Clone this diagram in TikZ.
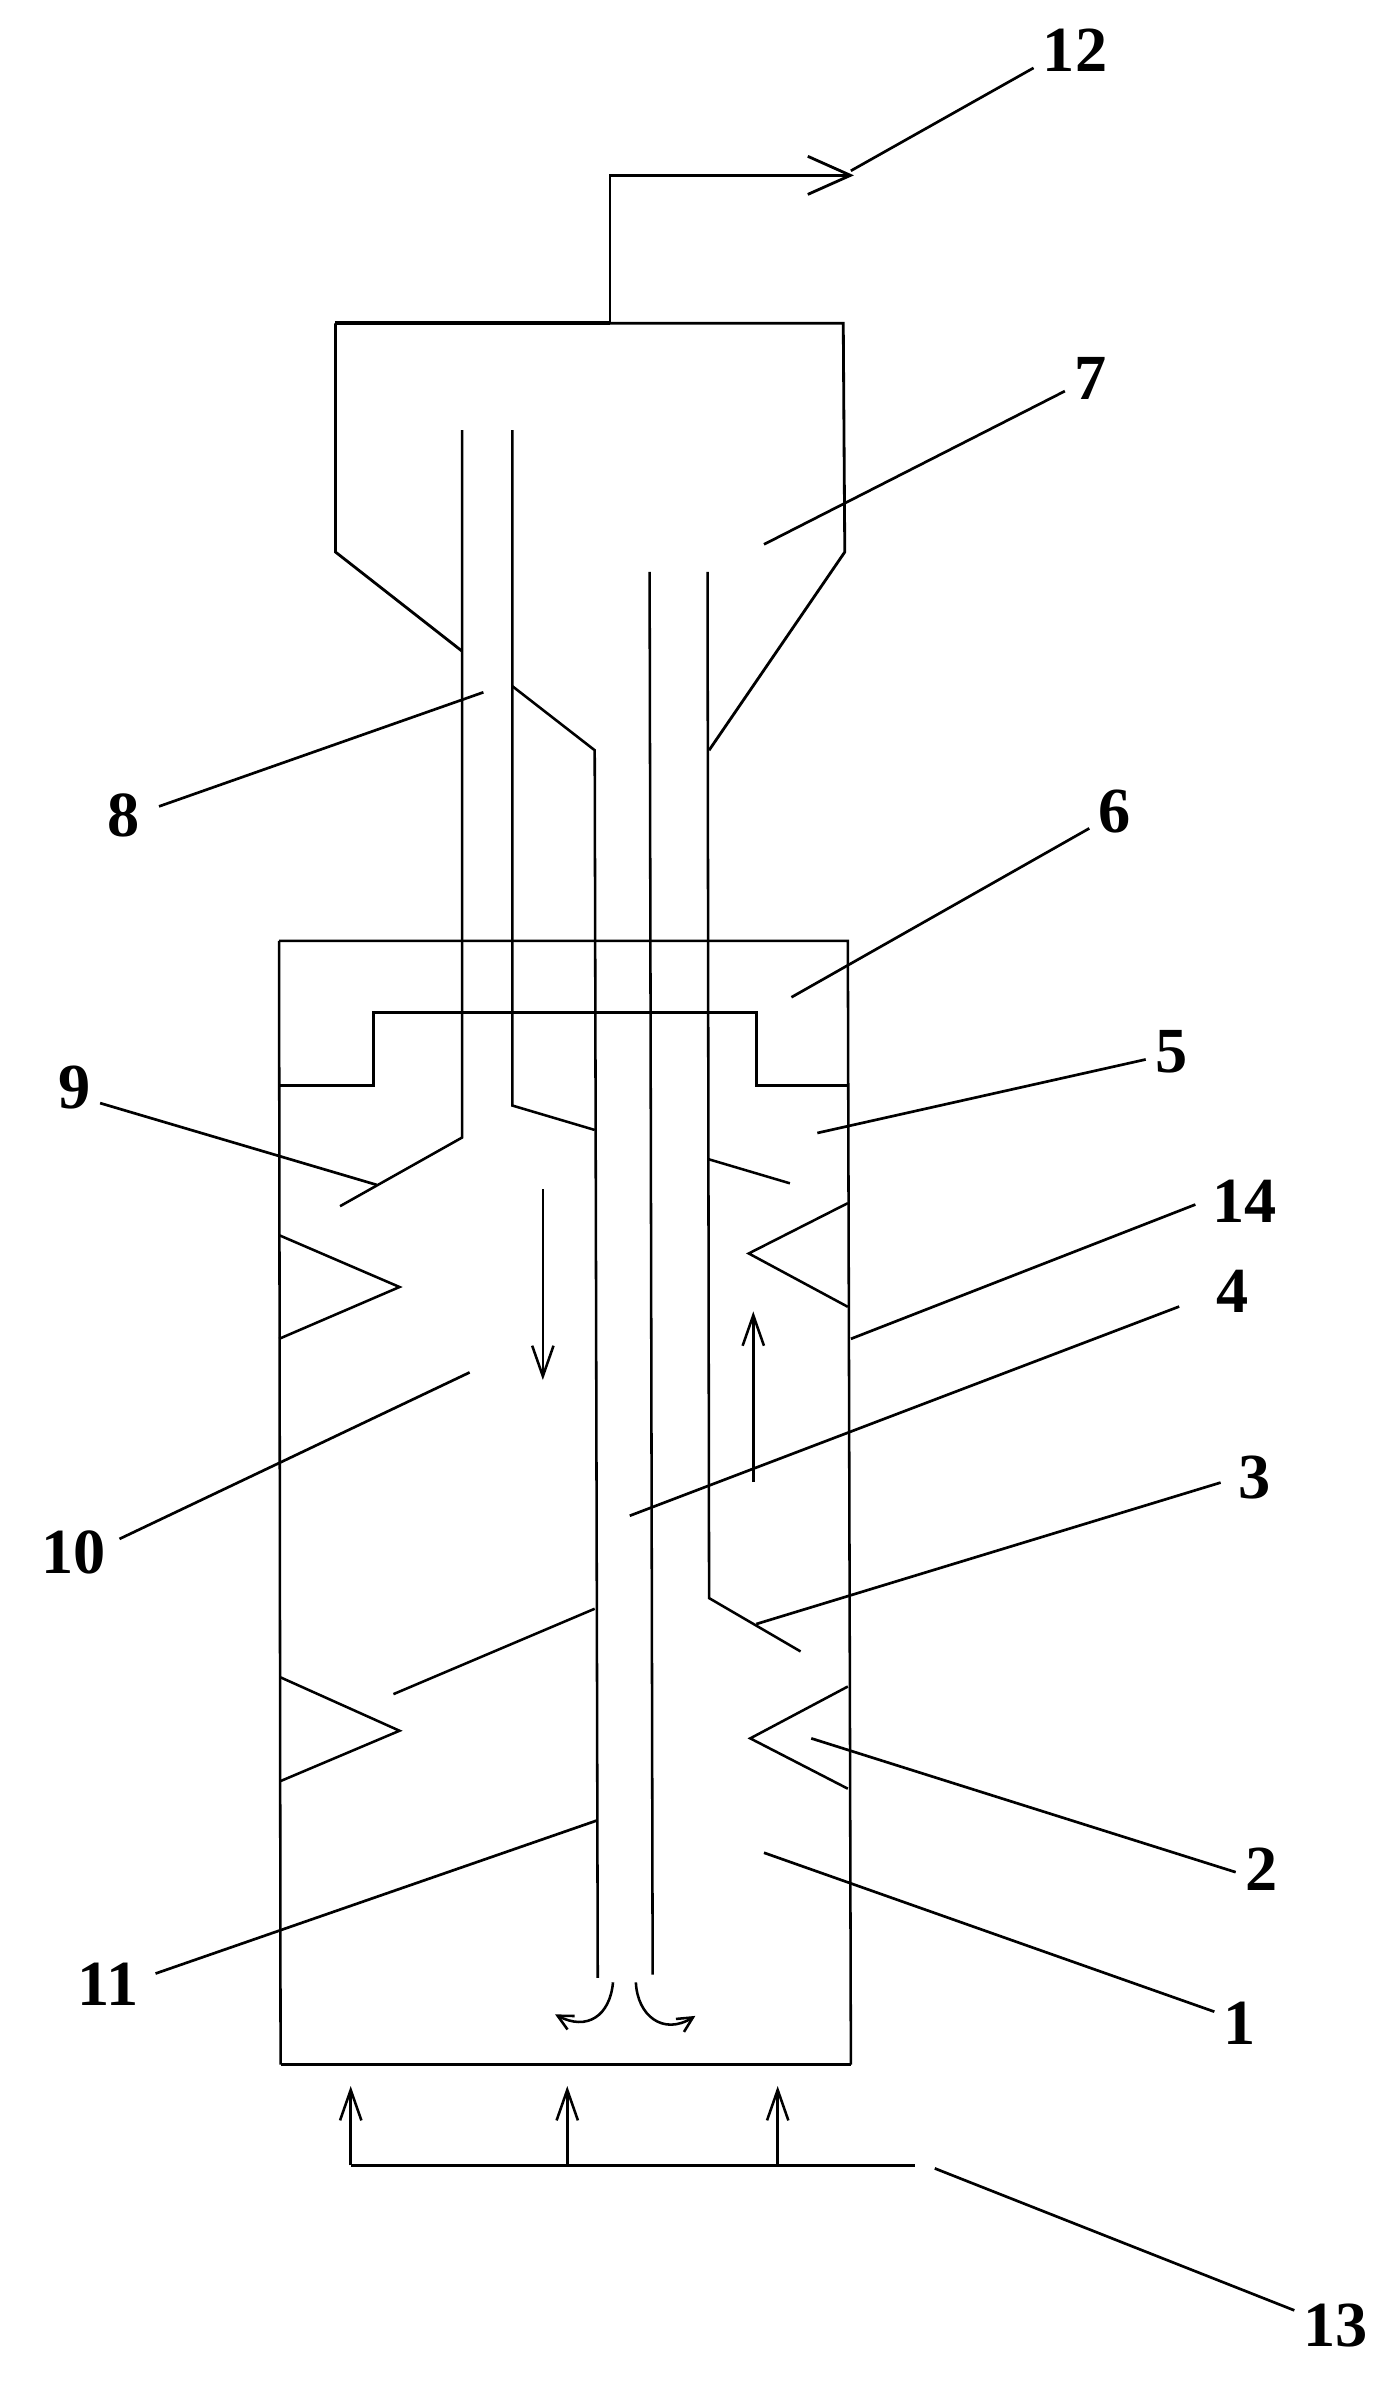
\documentclass[tikz,border=0pt]{standalone}
\usepackage{fontspec}
\setmainfont{Liberation Serif}
\usetikzlibrary{arrows.meta}

\begin{document}
\begin{tikzpicture}
          [x = 0.02cm, y = -0.02cm, line width = 0.95pt, >= {Straight Barb[length=0.4cm, width=0.28cm]},
           numlabel/.style = {inner sep = 3pt, font = \fontsize{24}{24}\selectfont\bfseries},
           leader/.style = {line width = 1pt},
           wall/.style = {line width = 1.05pt}]
          \useasboundingbox (0,0) rectangle (912,1568);
          % hopper and outlet
          \draw[line width = 1.4pt] (220,212) -- (400,212);
          \draw[wall] (400,212) -- (553,212) -- (554,362) -- (465,492);
          \draw[wall] (220,212) -- (220,362) -- (303,427);
          \draw[wall, -{Straight Barb[length=0.56cm, width=0.5cm]}] (400,212) -- (400,115) -- (560,115);
          % shell
          \draw (183,617) -- (556,617) -- (558,1354);
          \draw (183,617) -- (184,1354);
          \draw[line width = 1.3pt] (184,1354) -- (558,1354);
          \draw (183,712) -- (245,712) -- (245,664) -- (496,664) -- (496,712) -- (556,712);
          % pipes
          \draw (303,282) -- (303,746) -- (223,791);
          \draw (336,282) -- (336,725) -- (390,741);
          \draw (336,450) -- (390,492) -- (392,1297);
          \draw (426,375) -- (428,1295);
          \draw (464,375) -- (465,1048) -- (525,1083);
          \draw (464,760) -- (518,776);
          \draw (390,1055) -- (258,1111);
          % baffles
          \draw (183,810) -- (262,844) -- (183,878);
          \draw (556,789) -- (491,822) -- (556,857);
          \draw (184,1100) -- (262,1135) -- (184,1168);
          \draw (556,1106) -- (492,1140) -- (556,1173);
          % flow arrows
          \draw[->] (356,780) -- (356,905);
          \draw[->] (494,972) -- (494,860);
          \draw[-{Straight Barb[length=0.2cm, width=0.2cm]}] (402,1300) .. controls (400,1322) and (385,1332) .. (364,1321);
          \draw[-{Straight Barb[length=0.2cm, width=0.2cm]}] (417,1300) .. controls (418,1322) and (435,1335) .. (456,1322);
          % feed
          \draw[line width = 1.1pt] (230,1420) -- (600,1420);
          \draw[->] (230,1420) -- (230,1368);
          \draw[->] (372,1420) -- (372,1368);
          \draw[->] (510,1420) -- (510,1368);
          % numbers
          \node[numlabel] (n1) at (813,1327) {1};
          \node[numlabel] (n2) at (827,1226) {2};
          \node[numlabel] (n3) at (823,969) {3};
          \node[numlabel] (n4) at (808,847) {4};
          \node[numlabel] (n5) at (768,690) {5};
          \node[numlabel] (n6) at (731,532) {6};
          \node[numlabel] (n7) at (715,248) {7};
          \node[numlabel] (n8) at (81,535) {8};
          \node[numlabel] (n9) at (49,713) {9};
          \node[numlabel] (n10) at (48,1018) {10};
          \node[numlabel] (n11) at (71,1301) {11};
          \node[numlabel] (n12) at (705,33) {12};
          \node[numlabel] (n13) at (876,1525) {13};
          \node[numlabel] (n14) at (816,788) {14};
          % leader ends
          \coordinate (t1) at (501,1215);
          \coordinate (t2) at (532,1140);
          \coordinate (t3) at (496,1065);
          \coordinate (t4) at (413,994);
          \coordinate (t5) at (536,743);
          \coordinate (t6) at (519,654);
          \coordinate (t7) at (501,357);
          \coordinate (t8) at (317,454);
          \coordinate (t9) at (247,777);
          \coordinate (t10) at (308,900);
          \coordinate (t11) at (391,1194);
          \coordinate (t12) at (558,112);
          \coordinate (t13) at (613,1422);
          \coordinate (t14) at (558,878);
          \draw[leader] (n1.155) -- (t1);
          \draw[leader] (n2.186) -- (t2);
          \draw[leader, shorten <= 3.5pt] (n3.185) -- (t3);
          \draw[leader, shorten <= 11pt] (n4.190) -- (t4);
          \draw[leader] (n5.196) -- (t5);
          \draw[leader] (n6.214) -- (t6);
          \draw[leader] (n7.207) -- (t7);
          \draw[leader, shorten <= 4pt] (n8.13) -- (t8);
          \draw[leader] (n9.-32) -- (t9);
          \draw[leader, shorten <= 2pt] (n10.15) -- (t10);
          \draw[leader, shorten <= 3pt] (n11.11) -- (t11);
          \draw[leader] (n12.203) -- (t12);
          \draw[leader] (n13.160) -- (t13);
          \draw[leader, shorten <= 3pt] (n14.west) -- (t14);
        \end{tikzpicture}
\end{document}
